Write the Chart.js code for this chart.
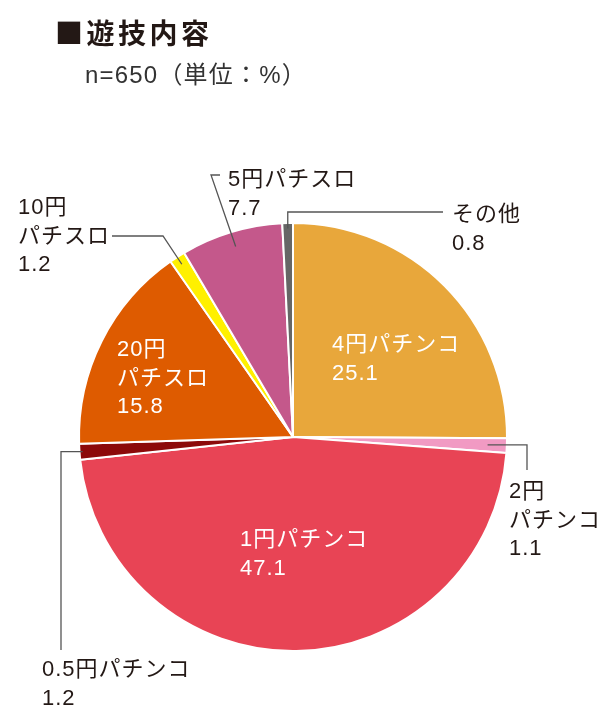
<!DOCTYPE html>
<html lang="ja">
<head>
<meta charset="utf-8">
<title>遊技内容</title>
<script src="https://cdn.jsdelivr.net/npm/chart.js@4.4.1/dist/chart.umd.min.js"></script>
<style>
  body { margin: 0; background: #fff; }
  .wrap { position: relative; width: 613px; height: 720px; }
  .title {
    position: absolute; left: 55px; top: 17px;
    font: bold 28px "Noto Sans CJK JP", sans-serif;
    letter-spacing: 3.5px; color: #231815; line-height: 30px;
  }
  .sub {
    position: absolute; left: 85px; top: 61px;
    font: 24px "Liberation Sans", "Noto Sans CJK JP", sans-serif;
    letter-spacing: 1.2px; color: #333; line-height: 28px;
  }
</style>
</head>
<body>
<div class="wrap">
  <div class="title">■遊技内容</div>
  <div class="sub">n=650（単位：%）</div>
  <canvas id="pieChart" width="613" height="720"></canvas>
</div>
<script>
// data, clockwise from 12 o'clock
const categories = ['4円パチンコ', '2円パチンコ', '1円パチンコ', '0.5円パチンコ',
                    '20円パチスロ', '10円パチスロ', '5円パチスロ', 'その他'];
const shares = [25.1, 1.1, 47.1, 1.2, 15.8, 1.2, 7.7, 0.8];
const sliceColors = ['#e8a73b', '#f19ac3', '#e84455', '#8c0a0a',
                     '#de5b00', '#fff000', '#c4588b', '#666666'];

// how each label is written (lines), where it sits, and its leader line
// inside: white text in the slice; outside: dark text + leader
const labelLayout = [
  { lines: ['4円パチンコ'], x: 332, y: 345, inside: true },
  { lines: ['2円', 'パチンコ'], x: 509, y: 492, r: 0.91, elbow: { x: 527, y: null }, end: { x: 527, y: 470 } },
  { lines: ['1円パチンコ'], x: 240, y: 540, inside: true },
  { lines: ['0.5円パチンコ'], x: 42, y: 670, r: 0.985, elbow: { x: 61, y: null }, end: { x: 61, y: 650 } },
  { lines: ['20円', 'パチスロ'], x: 117, y: 350, inside: true },
  { lines: ['10円', 'パチスロ'], x: 18, y: 208, r: 0.96, elbow: { x: 163, y: 236 }, end: { x: 112, y: 236 } },
  { lines: ['5円パチスロ'], x: 228, y: 180, r: 0.93, elbow: { x: 211, y: 175 }, end: { x: 220, y: 175 } },
  { lines: ['その他'], x: 452, y: 215, r: 0.975, elbow: { x: null, y: 212 }, end: { x: 443, y: 212 } }
];
const lineGap = 28.5;

const pieLabels = {
  id: 'pieLabels',
  afterDraw(chart) {
    const ctx = chart.ctx;
    const arcs = chart.getDatasetMeta(0).data;
    ctx.save();
    ctx.font = '22px "Liberation Sans", "Noto Sans CJK JP", sans-serif';
    ctx.letterSpacing = '1px';
    ctx.textBaseline = 'middle';
    ctx.textAlign = 'left';
    arcs.forEach((arc, i) => {
      const lay = labelLayout[i];
      const p = arc.getProps(['x', 'y', 'startAngle', 'endAngle', 'outerRadius'], true);
      if (!lay.inside) {
        const mid = (p.startAngle + p.endAngle) / 2;
        const ax = p.x + Math.cos(mid) * p.outerRadius * lay.r;
        const ay = p.y + Math.sin(mid) * p.outerRadius * lay.r;
        const ex = lay.elbow.x === null ? ax : lay.elbow.x;
        const ey = lay.elbow.y === null ? ay : lay.elbow.y;
        ctx.strokeStyle = '#555';
        ctx.lineWidth = 1.3;
        ctx.beginPath();
        ctx.moveTo(ax, ay);
        ctx.lineTo(ex, ey);
        ctx.lineTo(lay.end.x, lay.end.y);
        ctx.stroke();
      }
      ctx.fillStyle = lay.inside ? '#ffffff' : '#231815';
      const rows = lay.lines.concat([shares[i].toFixed(1)]);
      rows.forEach((t, k) => {
        ctx.fillText(t, lay.x, lay.y + k * lineGap);
      });
    });
    ctx.restore();
  }
};

new Chart(document.getElementById('pieChart').getContext('2d'), {
  type: 'pie',
  data: {
    labels: categories,
    datasets: [{
      data: shares,
      backgroundColor: sliceColors,
      borderColor: '#ffffff',
      borderWidth: 2
    }]
  },
  options: {
    responsive: false,
    animation: false,
    layout: { padding: { left: 78, right: 105, top: 222, bottom: 68 } },
    plugins: {
      legend: { display: false },
      tooltip: { enabled: false }
    }
  },
  plugins: [pieLabels]
});
</script>
</body>
</html>
